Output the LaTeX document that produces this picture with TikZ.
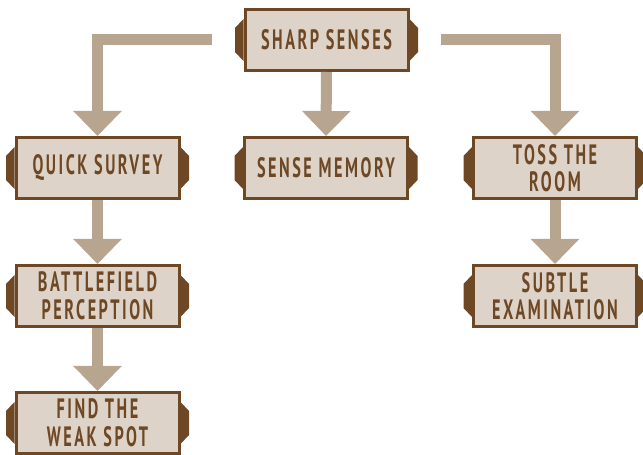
\documentclass[tikz,border=0pt]{standalone}
\usepackage{fontspec}
\setmainfont{PT Sans}[FakeStretch=0.58, LetterSpace=9, UprightFont=*-Bold]
\usetikzlibrary{arrows.meta}

\definecolor{boxfill}{RGB}{221,211,200}
\definecolor{boxline}{RGB}{110,72,36}
\definecolor{flowc}{RGB}{184,165,144}

\tikzset{
  skill/.style={draw=boxline, line width=3pt, fill=boxfill, minimum width=163pt,
    minimum height=61pt, inner sep=0pt, align=center, text=boxline,
    font=\fontsize{28}{27.5}\selectfont},
  flow/.style={draw=flowc, line width=11pt, -{Triangle[width=47pt,length=25pt]}},
  tab/.style={fill=boxline}
}

\begin{document}
\begin{tikzpicture}[x=1pt,y=1pt]

\useasboundingbox (0,0) rectangle (643,455);

% the skill boxes
\node[skill] (sharp)  at (326.5,415) {SHARP SENSES};
\node[skill] (quick)  at (97.5,287)  {QUICK SURVEY};
\node[skill] (memory) at (326,287)   {SENSE MEMORY};
\node[skill] (toss)   at (555,287)   {TOSS THE\\ROOM};
\node[skill] (battle) at (97.5,159)  {BATTLEFIELD\\PERCEPTION};
\node[skill] (subtle) at (555,159)   {SUBTLE\\EXAMINATION};
\node[skill] (weak)   at (97.5,32)   {FIND THE\\WEAK SPOT};

% side tabs
\foreach \n in {sharp, quick, memory, toss, battle, subtle, weak} {
  \fill[tab] (\n.west) ++(0,21) -- ++(-8.5,-9) -- ++(0,-24) -- ++(8.5,-9) -- cycle;
  \fill[tab] (\n.east) ++(0,21) -- ++(8.5,-9) -- ++(0,-24) -- ++(-8.5,-9) -- cycle;
}

% connectors
\coordinate (lstart) at (212,415);
\coordinate (rstart) at (441,415);
\draw[flow] (lstart) -| (quick.north);
\draw[flow] (rstart) -| (toss.north);
\draw[flow] (sharp.south) -- (memory.north);
\draw[flow] (quick.south) -- (battle.north);
\draw[flow] (battle.south) -- (weak.north);
\draw[flow] (toss.south) -- (subtle.north);

\end{tikzpicture}
\end{document}
